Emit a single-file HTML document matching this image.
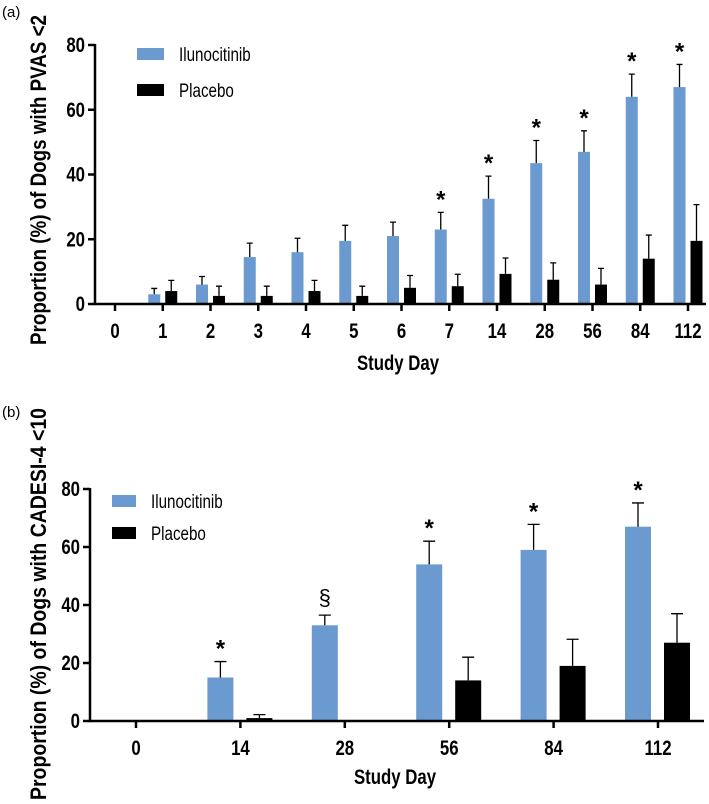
<!DOCTYPE html>
<html><head><meta charset="utf-8"><style>
body{margin:0;background:#fff}
svg{display:block;font-family:"Liberation Sans",Arial,sans-serif}
</style></head><body>
<svg id="s" width="709" height="804" viewBox="0 0 709 804" xmlns="http://www.w3.org/2000/svg">
<text x="2" y="17" font-size="15">(a)</text>
<text x="2" y="417" font-size="15">(b)</text>
</svg>
<script>
const catsA=["0","1","2","3","4","5","6","7","14","28","56","84","112"];
const ilunoA=[0,3,6,14.5,16,19.5,21,23,32.5,43.5,47,64,67];
const ilunoErrA=[0,4.8,8.5,18.8,20.3,24.3,25.3,28.3,39.5,50.5,53.5,71,74];
const placeboA=[0,4,2.5,2.5,4,2.5,5,5.5,9.3,7.5,6,14,19.5];
const placeboErrA=[0,7.3,5.5,5.5,7.3,5.5,8.8,9.2,14.2,12.7,11,21.3,30.7];
const marksA=["","","","","","","","*","*","*","*","*","*"];
const catsB=["0","14","28","56","84","112"];
const ilunoB=[0,15,33,54,59,67];
const ilunoErrB=[0,20.5,36.5,62,67.8,75.2];
const placeboB=[0,1,0,14,19,27];
const placeboErrB=[0,2.2,0,22,28.2,37];
const marksB=["","*","§","*","*","*"];
const yTicks=[0,20,40,60,80];
const NS="http://www.w3.org/2000/svg";
const svg=document.getElementById('s');
const SX=0.8;
function mk(tag,attrs,parent){const e=document.createElementNS(NS,tag);for(const k in attrs)e.setAttribute(k,attrs[k]);(parent||svg).appendChild(e);return e;}
function txt(g,x,y,s,attrs,rot){
  const t=mk('text',Object.assign({x:0,y:0,transform:`translate(${x} ${y})${rot?' rotate(-90)':''} scale(${SX} 1)`},attrs),g);
  t.textContent=s;return t;
}
function chart(o){
  const g=mk('g',{});
  
  
  const y=v=>o.y0-(o.y0-o.y80)*v/80;
  const x=i=>o.x0+i*o.step;
  o.cats.forEach((c,i)=>{
    [[o.blue,o.blueErr,'#6a9acf',o.offB,'iluno'],[o.black,o.blackErr,'#000',o.offK,'placebo']].forEach(([vals,errs,col,off,nm])=>{
      const v=vals[i]; if(v<=0&&errs[i]<=0) return;
      const cx=x(i)+off;
      const r=mk('rect',{x:cx-o.bw/2,y:y(v),width:o.bw,height:y(0)-y(v),fill:col},g);
      
      
      if(errs[i]>v){
        const l=mk('path',{d:`M${cx} ${y(v)}V${y(errs[i])}M${cx-o.cap} ${y(errs[i])}H${cx+o.cap}`,stroke:'#000','stroke-width':1.3,fill:'none'},g);
        
        
      }
    });
    if(o.marks[i]){
      const isStar=o.marks[i]=="*";
      const t=mk('text',{x:x(i)+o.offB,y:y(o.blueErr[i])-(isStar?5:10),'text-anchor':'middle','font-size':isStar?24:22,'font-weight':isStar?'bold':'normal'},g);
      t.textContent=o.marks[i];
      
      
    }
    const tk=mk('line',{x1:x(i),x2:x(i),y1:o.y0,y2:o.y0+7,stroke:'#000','stroke-width':2.5},g);
    
    
    const tl=txt(g,x(i),o.y0+34,c,{'text-anchor':'middle','font-size':21,'font-weight':'bold'});
    
    
  });
  yTicks.forEach(v=>{
    const tk=mk('line',{x1:o.ax-7,x2:o.ax,y1:y(v),y2:y(v),stroke:'#000','stroke-width':2.5},g);
    
    
    const tl=txt(g,o.ax-10,y(v)+7,String(v),{'text-anchor':'end','font-size':21,'font-weight':'bold'});
    
    
  });
  const ax=mk('path',{d:`M${o.ax} ${o.y80-1}V${o.y0}H${o.xend}`,stroke:'#000','stroke-width':2.5,fill:'none'},g);
  
  
  const xt=txt(g,o.xtx,o.xty,'Study Day',{'text-anchor':'middle','font-size':21,'font-weight':'bold'});
  
  
  const yt=mk('text',{x:0,y:0,'text-anchor':'middle','font-size':22,'font-weight':'bold',transform:`translate(46 ${o.ytc}) rotate(-90)`,'xml:space':'preserve',textLength:o.ytl,lengthAdjust:'spacingAndGlyphs'},g);
  yt.textContent=o.ytitle;
  
  
  [[o.leg[1],'#6a9acf','Ilunocitinib'],[o.leg[2],'#000','Placebo']].forEach(([ly,col,lab])=>{
    const r=mk('rect',{x:o.leg[0],y:ly,width:o.leg[3],height:12,fill:col},g);
    
    
    const t=txt(g,o.leg[0]+o.leg[3]+15,ly+13,lab,{'font-size':19});
    
    
  });
}
chart({name:'chart-pvas',cats:catsA,blue:ilunoA,blueErr:ilunoErrA,black:placeboA,blackErr:placeboErrA,marks:marksA,
  y0:304,y80:45,x0:115,step:47.75,offB:-8.5,offK:8.5,bw:12,cap:3,ax:95,xend:706,xtx:398,xty:370,ytc:180,ytl:330,
  ytitle:'Proportion (%) of Dogs with PVAS <2',leg:[137,48,84,27]});
chart({name:'chart-cadesi',cats:catsB,blue:ilunoB,blueErr:ilunoErrB,black:placeboB,blackErr:placeboErrB,marks:marksB,
  y0:721,y80:489,x0:136,step:104.4,offB:-20,offK:19,bw:26,cap:6,ax:90,xend:704,xtx:395,xty:784,ytc:604,ytl:392,
  ytitle:'Proportion (%) of Dogs with  CADESI-4 <10',leg:[112,495,527,24]});
</script>
</body></html>
